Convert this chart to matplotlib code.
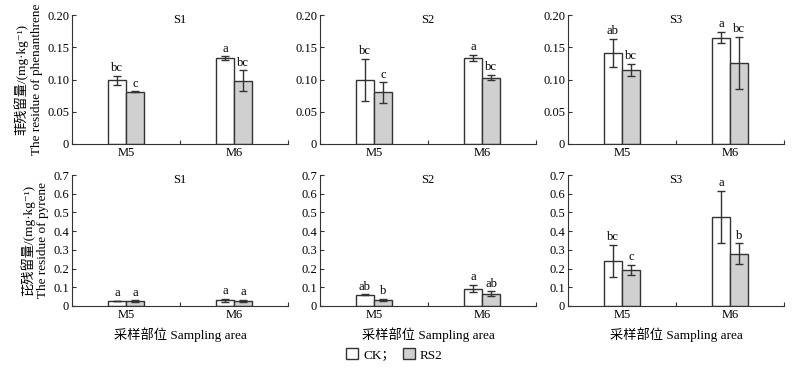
import matplotlib.pyplot as plt
import numpy as np

plt.rcParams['font.family'] = ['Liberation Serif', 'Noto Sans CJK SC', 'DejaVu Serif']
plt.rcParams['font.size'] = 9

sites = ['S1', 'S2', 'S3']
parts = ['M5', 'M6']
treatments = ['CK；', 'RS2']

# phenanthrene residue, [site][part]
phe_ck = [[0.099, 0.133], [0.099, 0.133], [0.141, 0.165]]
phe_ck_err = [[0.007, 0.003], [0.033, 0.005], [0.022, 0.009]]
phe_rs = [[0.081, 0.098], [0.080, 0.103], [0.115, 0.126]]
phe_rs_err = [[0.001, 0.016], [0.016, 0.0045], [0.009, 0.040]]
phe_ck_lab = [['bc', 'a'], ['bc', 'a'], ['ab', 'a']]
phe_rs_lab = [['c', 'bc'], ['c', 'bc'], ['bc', 'bc']]

# pyrene residue
pyr_ck = [[0.027, 0.030], [0.060, 0.093], [0.240, 0.477]]
pyr_ck_err = [[0.002, 0.010], [0.003, 0.019], [0.086, 0.138]]
pyr_rs = [[0.027, 0.028], [0.033, 0.065], [0.193, 0.280]]
pyr_rs_err = [[0.003, 0.006], [0.006, 0.014], [0.028, 0.055]]
pyr_ck_lab = [['a', 'a'], ['ab', 'a'], ['bc', 'a']]
pyr_rs_lab = [['a', 'a'], ['b', 'ab'], ['c', 'b']]

rows = [
    dict(ck=phe_ck, ck_err=phe_ck_err, rs=phe_rs, rs_err=phe_rs_err,
         ck_lab=phe_ck_lab, rs_lab=phe_rs_lab, ymax=0.20,
         yticks=[0, 0.05, 0.10, 0.15, 0.20],
         ylab='菲残留量/(mg·kg⁻¹)\nThe residue of phenanthrene'),
    dict(ck=pyr_ck, ck_err=pyr_ck_err, rs=pyr_rs, rs_err=pyr_rs_err,
         ck_lab=pyr_ck_lab, rs_lab=pyr_rs_lab, ymax=0.70,
         yticks=[0, 0.1, 0.2, 0.3, 0.4, 0.5, 0.6, 0.7],
         ylab='芘残留量/(mg·kg⁻¹)\nThe residue of pyrene'),
]

fig = plt.figure(figsize=(8.05, 3.70), dpi=100)
lefts = [72 / 805, 320 / 805, 568 / 805]
width = 216 / 805
bottoms = [1 - 144 / 370, 1 - 306 / 370]
heights = [129 / 370, 131 / 370]

edge = '#333333'
gray = '#d0d0d0'
w = 0.167
x = np.array([0.5, 1.5])

for r, row in enumerate(rows):
    for s in range(3):
        ax = fig.add_axes([lefts[s], bottoms[r], width, heights[r]])
        ck = np.array(row['ck'][s])
        rs = np.array(row['rs'][s])
        cke = np.array(row['ck_err'][s])
        rse = np.array(row['rs_err'][s])
        ax.bar(x - w / 2, ck, w, color='white', edgecolor=edge, linewidth=1)
        ax.bar(x + w / 2, rs, w, color=gray, edgecolor=edge, linewidth=1)
        ax.errorbar(x - w / 2, ck, yerr=cke, fmt='none', ecolor=edge, elinewidth=1, capsize=3, capthick=1)
        ax.errorbar(x + w / 2, rs, yerr=rse, fmt='none', ecolor=edge, elinewidth=1, capsize=3, capthick=1)
        off = row['ymax'] * 0.012
        for i in range(2):
            ax.text(x[i] - w / 2, ck[i] + cke[i] + off, row['ck_lab'][s][i], ha='center', va='bottom', fontsize=9)
            ax.text(x[i] + w / 2, rs[i] + rse[i] + off, row['rs_lab'][s][i], ha='center', va='bottom', fontsize=9)
        ax.set_xlim(0, 2)
        ax.set_ylim(0, row['ymax'])
        ax.spines['top'].set_visible(False)
        ax.spines['right'].set_visible(False)
        ax.spines['left'].set_color(edge)
        ax.spines['bottom'].set_color(edge)
        ax.set_xticks([0, 1, 2])
        ax.set_xticklabels([])
        ax.set_xticks(x, minor=True)
        ax.set_xticklabels(parts, minor=True)
        ax.tick_params(axis='x', which='major', direction='in', length=3, color=edge)
        ax.tick_params(axis='x', which='minor', length=0, pad=2, labelsize=9)
        ax.set_yticks(row['yticks'])
        if r == 0:
            ax.set_yticklabels(['0'] + ['%.2f' % t for t in row['yticks'][1:]])
        else:
            ax.set_yticklabels(['0'] + ['%.1f' % t for t in row['yticks'][1:]])
        ax.tick_params(axis='y', direction='in', length=3, color=edge, pad=2, labelsize=9)
        ax.text(0.5, 0.96, sites[s], transform=ax.transAxes, ha='center', va='center', fontsize=9)
        if s == 0:
            ax.set_ylabel(row['ylab'], fontsize=9.5, labelpad=3, linespacing=1.25)
        if r == 1:
            ax.set_xlabel('采样部位 Sampling area', fontsize=9.5, labelpad=5)

handles = [plt.Rectangle((0, 0), 1, 1, facecolor='white', edgecolor=edge, linewidth=1),
           plt.Rectangle((0, 0), 1, 1, facecolor=gray, edgecolor=edge, linewidth=1)]
fig.legend(handles, treatments, ncol=2, loc='center', bbox_to_anchor=(0.49, 1 - 355 / 370),
           frameon=False, handlelength=0.9, handleheight=0.9, columnspacing=0.6,
           handletextpad=0.4, fontsize=9.5)

fig.savefig('out.png', dpi=100)
